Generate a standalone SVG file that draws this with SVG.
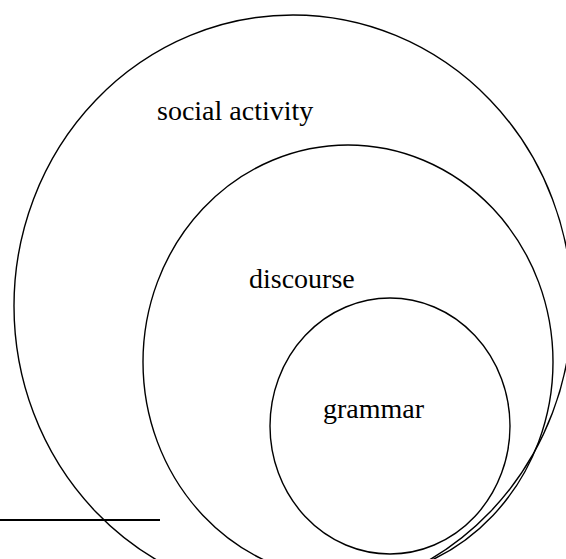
<svg xmlns="http://www.w3.org/2000/svg" width="566" height="559" viewBox="0 0 566 559">
<style>
.c{fill:none;stroke:#000;stroke-width:1.4}
.t{font-family:"Liberation Serif","Times New Roman",serif;font-size:28px;fill:#000}
</style>
<rect width="566" height="559" fill="#fff"/>
<g id="social-activity">
<ellipse class="c" cx="293" cy="306" rx="279" ry="291"/>
<text class="t" x="157" y="120">social activity</text>
</g>
<g id="discourse">
<ellipse class="c" cx="348" cy="362" rx="205" ry="217"/>
<text class="t" x="249" y="288">discourse</text>
</g>
<g id="grammar">
<ellipse class="c" cx="390" cy="426" rx="120" ry="128"/>
<text class="t" x="323" y="418">grammar</text>
</g>
<g id="connectors">
<line x1="0" y1="520" x2="160" y2="520" stroke="#000" stroke-width="1.8"/>
</g>
</svg>
